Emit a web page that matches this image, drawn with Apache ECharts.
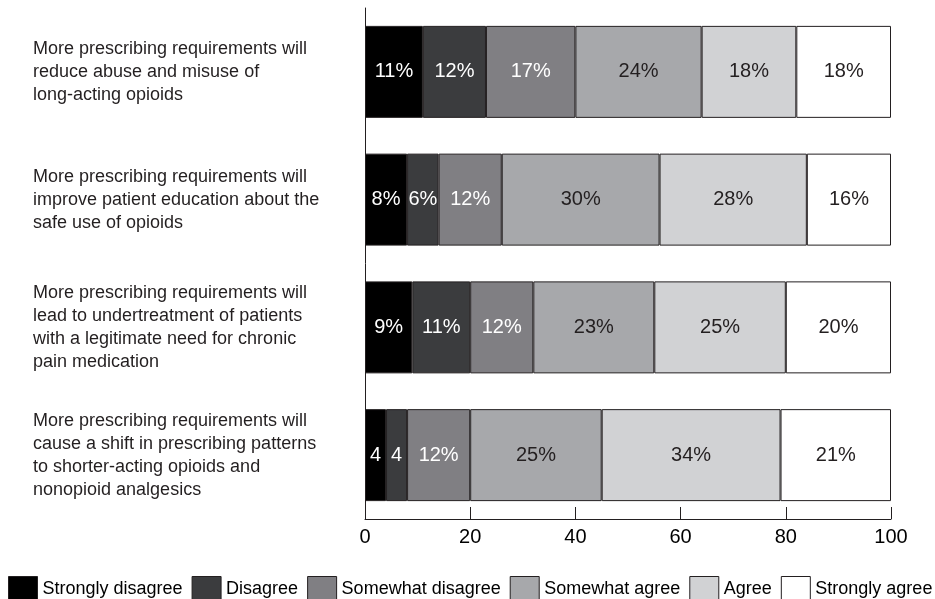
<!DOCTYPE html>
<html>
<head>
<meta charset="utf-8">
<script src="https://cdn.jsdelivr.net/npm/echarts@6/dist/echarts.min.js"></script>
<style>
html,body{margin:0;padding:0;background:#fff;}
#chart{width:935px;height:599px;}
</style>
</head>
<body>
<div id="chart"></div>
<script>
const categories = [
  'More prescribing requirements will\nreduce abuse and misuse of\nlong-acting opioids',
  'More prescribing requirements will\nimprove patient education about the\nsafe use of opioids',
  'More prescribing requirements will\nlead to undertreatment of patients\nwith a legitimate need for chronic\npain medication',
  'More prescribing requirements will\ncause a shift in prescribing patterns\nto shorter-acting opioids and\nnonopioid analgesics'
];
const seriesNames = ['Strongly disagree','Disagree','Somewhat disagree','Somewhat agree','Agree','Strongly agree'];
const stronglyDisagree = [11, 8, 9, 4];
const disagree = [12, 6, 11, 4];
const somewhatDisagree = [17, 12, 12, 12];
const somewhatAgree = [24, 30, 23, 25];
const agree = [18, 28, 25, 34];
const stronglyAgree = [18, 16, 20, 21];
const stronglyDisagreeLabels = ['11%', '8%', '9%', '4'];
const disagreeLabels = ['12%', '6%', '11%', '4'];
const somewhatDisagreeLabels = ['17%', '12%', '12%', '12%'];
const somewhatAgreeLabels = ['24%', '30%', '23%', '25%'];
const agreeLabels = ['18%', '28%', '25%', '34%'];
const stronglyAgreeLabels = ['18%', '16%', '20%', '21%'];
const xTicks = [0, 20, 40, 60, 80, 100];

const values = [stronglyDisagree, disagree, somewhatDisagree, somewhatAgree, agree, stronglyAgree];
const labelTexts = [stronglyDisagreeLabels, disagreeLabels, somewhatDisagreeLabels, somewhatAgreeLabels, agreeLabels, stronglyAgreeLabels];
const colors = ['#000000', '#3b3c3e', '#807f83', '#a7a8ab', '#d1d2d4', '#ffffff'];
const labelColors = ['#ffffff', '#ffffff', '#ffffff', '#231f20', '#231f20', '#231f20'];
const FONT = "'Liberation Sans', Arial, sans-serif";

const chart = echarts.init(document.getElementById('chart'));
chart.setOption({
  animation: false,
  backgroundColor: '#ffffff',
  textStyle: { fontFamily: FONT },
  grid: { left: 365, right: 44, top: 8, bottom: 80, containLabel: false },
  legend: {
    data: seriesNames,
    left: 8,
    top: 576,
    width: 1200,
    padding: 0,
    icon: 'rect',
    itemWidth: 29,
    itemHeight: 26,
    itemGap: 9,
    textStyle: { fontSize: 18, color: '#000000', fontFamily: FONT },
    itemStyle: { borderColor: '#231f20', borderWidth: 1 }
  },
  xAxis: {
    type: 'value',
    min: xTicks[0],
    max: xTicks[xTicks.length - 1],
    interval: xTicks[1] - xTicks[0],
    axisLine: { show: true, lineStyle: { color: '#231f20', width: 1 } },
    axisTick: { show: true, inside: true, length: 12, lineStyle: { color: '#231f20', width: 1 } },
    splitLine: { show: false },
    axisLabel: { fontSize: 20, color: '#000000', margin: 8, fontFamily: FONT }
  },
  yAxis: {
    type: 'category',
    inverse: true,
    data: categories,
    axisLine: { show: true, lineStyle: { color: '#231f20', width: 1 } },
    axisTick: { show: false },
    axisLabel: {
      align: 'left',
      margin: 332,
      fontSize: 18,
      lineHeight: 23,
      color: '#231f20',
      fontFamily: FONT
    }
  },
  series: seriesNames.map((name, i) => ({
    name: name,
    type: 'bar',
    stack: 'total',
    barCategoryGap: '28%',
    data: values[i],
    itemStyle: { color: colors[i], borderColor: '#231f20', borderWidth: 1 },
    label: {
      show: true,
      position: 'inside',
      fontSize: 20,
      color: labelColors[i],
      fontFamily: FONT,
      formatter: p => labelTexts[i][p.dataIndex]
    },
    emphasis: { disabled: true }
  }))
});
</script>
</body>
</html>
